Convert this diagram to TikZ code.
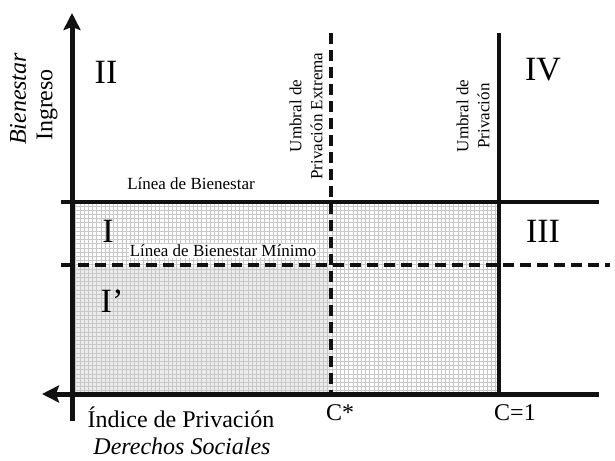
\documentclass[tikz,border=0pt]{standalone}
\usepackage{fontspec}
\setmainfont{Liberation Serif}
\usetikzlibrary{arrows.meta,positioning}
\definecolor{qdink}{HTML}{111111}
\definecolor{qdgrid}{HTML}{C8C8C8}
\definecolor{qdshade}{HTML}{EBEBEB}

\begin{document}
\begin{tikzpicture}[x=1pt,y=-1pt,
    axis/.style={draw=qdink,line width=5pt,-{Stealth[length=17pt,width=17pt,inset=3pt]}},
    solidline/.style={draw=qdink,line width=4pt},
    dashline/.style={draw=qdink,line width=3.2pt,dash pattern=on 11pt off 6pt},
    quadlabel/.style={font=\fontsize{34}{40}\selectfont},
    axislabel/.style={font=\fontsize{24}{28}\selectfont},
    axisitalic/.style={font=\fontsize{24}{28}\selectfont\itshape},
    linelabel/.style={font=\fontsize{17}{21}\selectfont,align=center}]
  \useasboundingbox (0,0) rectangle (615,460);
  % shaded area and grid
  \fill[qdshade] (74,266) rectangle (331,392);
  \draw[qdgrid,line width=0.45pt,step=4.2pt] (74,204) grid (497,392);
  % thresholds
  \coordinate (bienL) at (61,202);
  \coordinate (bienR) at (599,202);
  \coordinate (minL) at (61,265);
  \coordinate (minR) at (610,265);
  \coordinate (cstarT) at (331,33);
  \coordinate (cstarB) at (331,392);
  \coordinate (coneT) at (499,33);
  \coordinate (coneB) at (499,394);
  \draw[solidline] (bienL) -- (bienR);
  \draw[dashline] (minL) -- (minR);
  \draw[dashline] (cstarT) -- (cstarB);
  \draw[solidline] (coneT) -- (coneB);
  % axes
  \coordinate (ybase) at (72,421);
  \coordinate (ytip) at (72,13);
  \coordinate (xend) at (599,394);
  \coordinate (xtip) at (42,394);
  \draw[axis] (ybase) -- (ytip);
  \draw[axis] (xend) -- (xtip);
  % quadrants
  \node[quadlabel] (qII) at (106,72) {II};
  \node[quadlabel] (qIV) at (543,70) {IV};
  \node[quadlabel] (qI) at (108,231) {I};
  \node[quadlabel] (qIp) at (112,301) {I’};
  \node[quadlabel] (qIII) at (543,231) {III};
  % labels
  \node[axisitalic,rotate=90] (bienestar) at (18,99) {Bienestar};
  \node[axislabel,rotate=90] (ingreso) at (47,105) {Ingreso};
  \node[axislabel] (indice) at (181,417) {Índice de Privación};
  \node[axisitalic,inner sep=1pt] (derechos) at (182,446) {Derechos Sociales};
  \node[axislabel] (cstar) at (340,413) {C*};
  \node[axislabel] (cone) at (515,413) {C=1};
  \node[linelabel] (lbien) at (191,184) {Línea de Bienestar};
  \node[linelabel,fill=white,inner sep=1pt] (lmin) at (223,251) {Línea de Bienestar Mínimo};
  \node[linelabel,rotate=90] (uext) at (306,116) {Umbral de\\Privación Extrema};
  \node[linelabel,rotate=90] (upriv) at (473,116) {Umbral de\\Privación};
\end{tikzpicture}
\end{document}
